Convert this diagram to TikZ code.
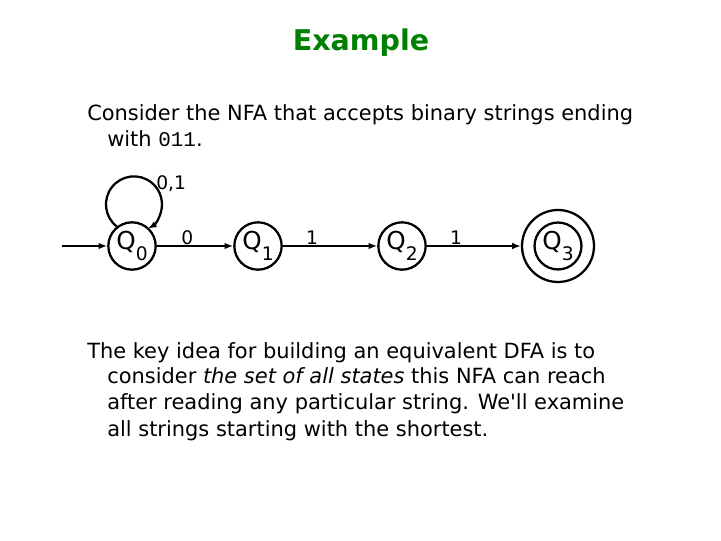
\documentclass[tikz,border=0pt]{standalone}
\usepackage{fontspec}
\setmainfont{DejaVu Sans}[ItalicFont={DejaVu Sans Oblique},BoldFont={DejaVu Sans Bold}]
\newfontfamily\monofont{Liberation Mono}
\usepackage{xcolor}
\usepackage{tikz}
\usetikzlibrary{arrows.meta,positioning}
\definecolor{titlegreen}{RGB}{0,128,0}
\newcommand{\statelbl}[2]{{\fontsize{18.5}{20}\selectfont #1}{\fontsize{14}{15}\selectfont\raisebox{-8pt}{#2}}}

\begin{document}
\begin{tikzpicture}[x=0.75pt,y=-0.75pt,
  state/.style={draw, circle, line width=1.7pt, minimum size=35.5pt, inner sep=0pt},
  trans/.style={line width=1.7pt, -{Latex[length=6.5pt,width=5pt]}},
  lbl/.style={font=\fontsize{14}{15}\selectfont, inner sep=0pt},
  body/.style={font=\fontsize{15.7}{18}\selectfont, inner sep=0pt, anchor=base west}]
  \useasboundingbox (0,0) rectangle (721,541);

  % Title
  \node[font=\bfseries\fontsize{21.4}{24}\selectfont, text=titlegreen, anchor=base, inner sep=0pt] (title) at (361,51) {Example};

  % Intro text
  \node[body] (intro1) at (87,121) {Consider the NFA that accepts binary strings ending};
  \node[body] (intro2) at (107,147) {with {\monofont 011}.};

  % States
  \node[state] (q0) at (132,246) {\statelbl{Q}{0}};
  \node[state] (q1) at (258,246) {\statelbl{Q}{1}};
  \node[state] (q2) at (402,246) {\statelbl{Q}{2}};
  \node[state, minimum size=54pt] (q3) at (558,246) {\statelbl{Q}{3}};
  \draw[line width=1.7pt] (q3.center) circle[radius=17.6pt];

  % Transitions
  \coordinate (entry) at (62,246);
  \draw[trans] (entry) -- (q0);
  \draw[trans] (q0.128) arc[start angle=128, end angle=420, radius=28];
  \node[lbl, anchor=base west] (loop01) at (156,190) {0,1};
  \draw[trans] (q0) -- node[lbl, above, pos=0.4] (a01) {0} (q1);
  \draw[trans] (q1) -- node[lbl, above, pos=0.31] (a12) {1} (q2);
  \draw[trans] (q2) -- node[lbl, above, pos=0.31] (a23) {1} (q3);

  % Key idea text
  \node[body] (idea1) at (87,359) {The key idea for building an equivalent DFA is to};
  \node[body] (idea2) at (107,384) {consider \textit{the set of all states} this NFA can reach};
  \node[body] (idea3) at (107,410) {after reading any particular string. We\textquotesingle ll examine};
  \node[body] (idea4) at (107,436) {all strings starting with the shortest.};
\end{tikzpicture}
\end{document}
